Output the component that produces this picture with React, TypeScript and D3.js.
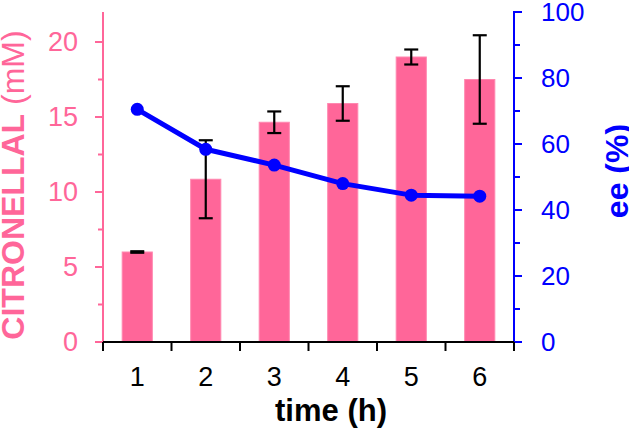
import { useMemo } from "react";
import * as d3 from "d3";

// データ
const hours = ["1", "2", "3", "4", "5", "6"];
const citronellal = [6.0, 10.85, 14.65, 15.9, 19.0, 17.5];
const citronellalErr = [0.05, 2.6, 0.72, 1.15, 0.5, 2.95];
const ee = [70.5, 58.4, 53.6, 48.0, 44.5, 44.2];
const leftTicks = [0, 5, 10, 15, 20];
const leftMinor = [2.5, 7.5, 12.5, 17.5];
const rightTicks = [0, 20, 40, 60, 80, 100];
const rightMinor = [10, 30, 50, 70, 90];

const PINK = "#ff6699";
const BLUE = "#0000ff";
const FONT = "'Liberation Sans', Arial, Helvetica, sans-serif";

function Chart({
  width,
  height,
  margin = { top: 12, right: 115, bottom: 87, left: 103 },
}: {
  width: number;
  height: number;
  margin?: { top: number; right: number; bottom: number; left: number };
}) {
  const plot = useMemo(
    () => ({
      left: margin.left,
      right: width - margin.right,
      top: margin.top,
      bottom: height - margin.bottom,
    }),
    [width, height, margin]
  );

  // X軸
  const xScale = useMemo(
    () => d3.scaleBand().domain(hours).range([plot.left, plot.right]).padding(0),
    [plot]
  );
  const barWidth = xScale.bandwidth() * 0.44;
  const boundaries = [...hours.map((h) => xScale(h) ?? 0), plot.right];

  // Y軸
  const yLeft = useMemo(
    () => d3.scaleLinear().domain([0, 22]).range([plot.bottom, plot.top]),
    [plot]
  );
  const yRight = useMemo(
    () => d3.scaleLinear().domain([0, 100]).range([plot.bottom, plot.top]),
    [plot]
  );

  const center = (h: string) => (xScale(h) ?? 0) + xScale.bandwidth() / 2;

  const line = d3
    .line<number>()
    .x((_, i) => center(hours[i]))
    .y((d) => yRight(d));

  return (
    <svg width={width} height={height} viewBox={`0 0 ${width} ${height}`} style={{ fontFamily: FONT, display: "block" }}>
      {/* bars */}
      {citronellal.map((v, i) => (
        <rect
          key={`bar-${i}`}
          x={center(hours[i]) - barWidth / 2}
          y={yLeft(v)}
          width={barWidth}
          height={yLeft(0) - yLeft(v)}
          fill={PINK}
          stroke="#ff88b0"
          strokeWidth={1}
        />
      ))}

      {/* error bars */}
      {citronellal.map((v, i) => {
        const cx = center(hours[i]);
        const y1 = yLeft(v + citronellalErr[i]);
        const y2 = yLeft(v - citronellalErr[i]);
        return (
          <g key={`err-${i}`} stroke="#000" strokeWidth={2.2}>
            <line x1={cx} x2={cx} y1={y1} y2={y2} />
            <line x1={cx - 7} x2={cx + 7} y1={y1} y2={y1} />
            <line x1={cx - 7} x2={cx + 7} y1={y2} y2={y2} />
          </g>
        );
      })}

      {/* ee line */}
      <path d={line(ee) ?? ""} fill="none" stroke={BLUE} strokeWidth={5} strokeLinejoin="round" />
      {ee.map((v, i) => (
        <circle key={`pt-${i}`} cx={center(hours[i])} cy={yRight(v)} r={6.5} fill={BLUE} />
      ))}

      {/* left axis */}
      <line x1={plot.left} x2={plot.left} y1={plot.top} y2={plot.bottom} stroke={PINK} strokeWidth={2} />
      {leftTicks.map((t) => (
        <g key={`lt-${t}`}>
          <line x1={plot.left - 8} x2={plot.left} y1={yLeft(t)} y2={yLeft(t)} stroke={PINK} strokeWidth={2} />
          <text
            x={78}
            y={yLeft(t)}
            textAnchor="end"
            dominantBaseline="central"
            fill={PINK}
            fontSize={27}
          >
            {t}
          </text>
        </g>
      ))}
      {leftMinor.map((t) => (
        <line key={`lm-${t}`} x1={plot.left - 5} x2={plot.left} y1={yLeft(t)} y2={yLeft(t)} stroke={PINK} strokeWidth={2} />
      ))}

      {/* right axis */}
      <line x1={plot.right} x2={plot.right} y1={plot.top - 1} y2={plot.bottom} stroke={BLUE} strokeWidth={2} />
      {rightTicks.map((t) => (
        <g key={`rt-${t}`}>
          <line x1={plot.right} x2={plot.right + 8} y1={yRight(t)} y2={yRight(t)} stroke={BLUE} strokeWidth={2} />
          <text
            x={plot.right + 27}
            y={yRight(t)}
            textAnchor="start"
            dominantBaseline="central"
            fill={BLUE}
            fontSize={26}
          >
            {t}
          </text>
        </g>
      ))}
      {rightMinor.map((t) => (
        <line key={`rm-${t}`} x1={plot.right} x2={plot.right + 6} y1={yRight(t)} y2={yRight(t)} stroke={BLUE} strokeWidth={2} />
      ))}

      {/* x axis */}
      <line x1={plot.left} x2={plot.right} y1={plot.bottom} y2={plot.bottom} stroke="#000" strokeWidth={2} />
      {boundaries.map((bx, i) => (
        <line key={`xt-${i}`} x1={bx} x2={bx} y1={plot.bottom} y2={plot.bottom + 9} stroke="#000" strokeWidth={2} />
      ))}
      {hours.map((h) => (
        <text key={`xl-${h}`} x={center(h)} y={386} textAnchor="middle" fontSize={27} fill="#000">
          {h}
        </text>
      ))}

      {/* titles */}
      <text x={331} y={421} textAnchor="middle" fontSize={31} fontWeight="bold" fill="#000">
        time (h)
      </text>
      <text
        transform={`translate(24, 185) rotate(-90)`}
        textAnchor="middle"
        fontSize={32}
        fill={PINK}
      >
        <tspan fontWeight="bold">CITRONELLAL</tspan>
        <tspan> (mM)</tspan>
      </text>
      <text
        transform={`translate(628, 171) rotate(-90)`}
        textAnchor="middle"
        fontSize={32}
        fontWeight="bold"
        fill={BLUE}
      >
        ee (%)
      </text>
    </svg>
  );
}

export default function App() {
  return (
    <div style={{ position: "fixed", left: 0, top: 0, background: "#fff" }}>
      <Chart width={629} height={429} />
    </div>
  );
}
